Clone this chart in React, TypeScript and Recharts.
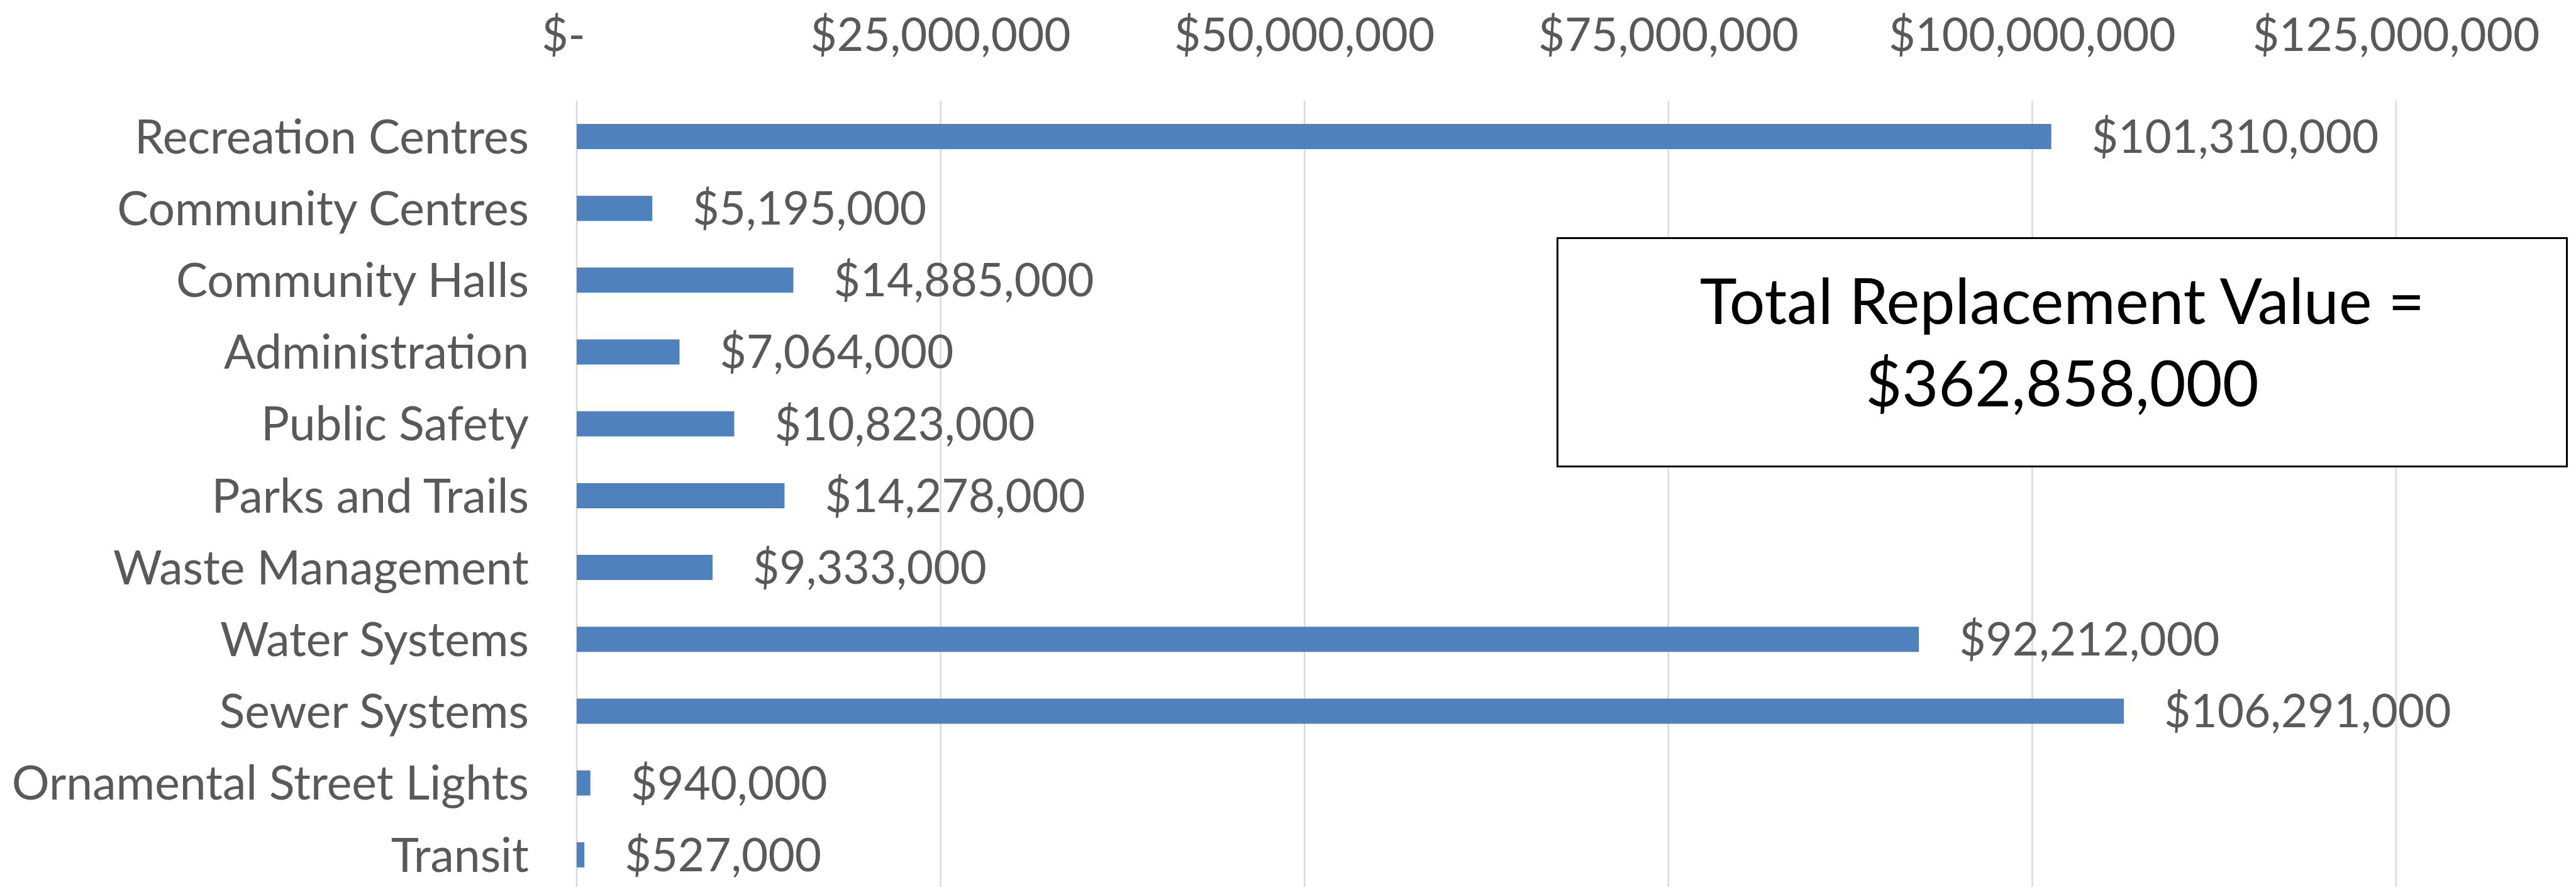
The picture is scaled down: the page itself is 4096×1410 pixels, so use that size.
import { BarChart, Bar, XAxis, YAxis, CartesianGrid, LabelList } from 'recharts'

// ── data ─────────────────────────────────────────────────────────────────────

const categories = [
  'Recreation Centres',
  'Community Centres',
  'Community Halls',
  'Administration',
  'Public Safety',
  'Parks and Trails',
  'Waste Management',
  'Water Systems',
  'Sewer Systems',
  'Ornamental Street Lights',
  'Transit',
]

const replacementValues = [
  101310000, 5195000, 14885000, 7064000, 10823000, 14278000,
  9333000, 92212000, 106291000, 940000, 527000,
]

const xTicks = [0, 25000000, 50000000, 75000000, 100000000, 125000000]

const totalLabel = 'Total Replacement Value ='
const totalValue = 362858000

const chartData = categories.map((name, i) => ({ name, value: replacementValues[i] }))

// ── helpers ──────────────────────────────────────────────────────────────────

const money = (v: number) => (v === 0 ? '$-' : `$${v.toLocaleString('en-US')}`)

const FONT = 'Lato, "Open Sans", sans-serif'
const GREY = '#595959'

function TopTick(props: any) {
  const { x, y, payload } = props
  const dx = payload.value === 0 ? -21 : 0
  return (
    <text x={x + dx} y={y} textAnchor="middle" fill={GREY} fontSize={73} fontFamily={FONT}>
      {money(payload.value)}
    </text>
  )
}

// ── component ─────────────────────────────────────────────────────────────────

export default function App() {
  return (
    <div style={{ position: 'absolute', left: 0, top: 0, width: 4096, height: 1410, overflow: 'hidden', background: '#fff' }}>
      <BarChart
        width={4096}
        height={1420}
        data={chartData}
        layout="vertical"
        margin={{ top: 0, right: 286, bottom: 4, left: 0 }}
        barCategoryGap={0}
      >
        <CartesianGrid horizontal={false} stroke="#D9D9D9" strokeWidth={2.5} />
        <XAxis
          type="number"
          orientation="top"
          domain={[0, 125000000]}
          ticks={xTicks}
          height={160}
          axisLine={false}
          tickLine={false}
          tickSize={0}
          tickMargin={79}
          tick={<TopTick />}
          interval={0}
        />
        <YAxis
          type="category"
          dataKey="name"
          width={917}
          axisLine={false}
          tickLine={false}
          tickSize={0}
          tickMargin={76}
          interval={0}
          tick={{ fill: GREY, fontSize: 75, fontFamily: FONT }}
        />
        <Bar dataKey="value" fill="#4F81BD" barSize={40} isAnimationActive={false}>
          <LabelList
            dataKey="value"
            position="right"
            offset={64}
            formatter={(v: any) => money(Number(v))}
            fill={GREY}
            fontSize={73}
            fontFamily={FONT}
          />
        </Bar>
      </BarChart>

      <div
        style={{
          position: 'absolute',
          left: 2475,
          top: 377,
          width: 1608,
          height: 366,
          boxSizing: 'border-box',
          border: '3px solid #000',
          background: '#fff',
          paddingTop: 31,
          textAlign: 'center',
          fontFamily: FONT,
          fontSize: 100,
          lineHeight: '131px',
          color: '#000',
        }}
      >
        <div>{totalLabel}</div>
        <div>{money(totalValue)}</div>
      </div>
    </div>
  )
}
